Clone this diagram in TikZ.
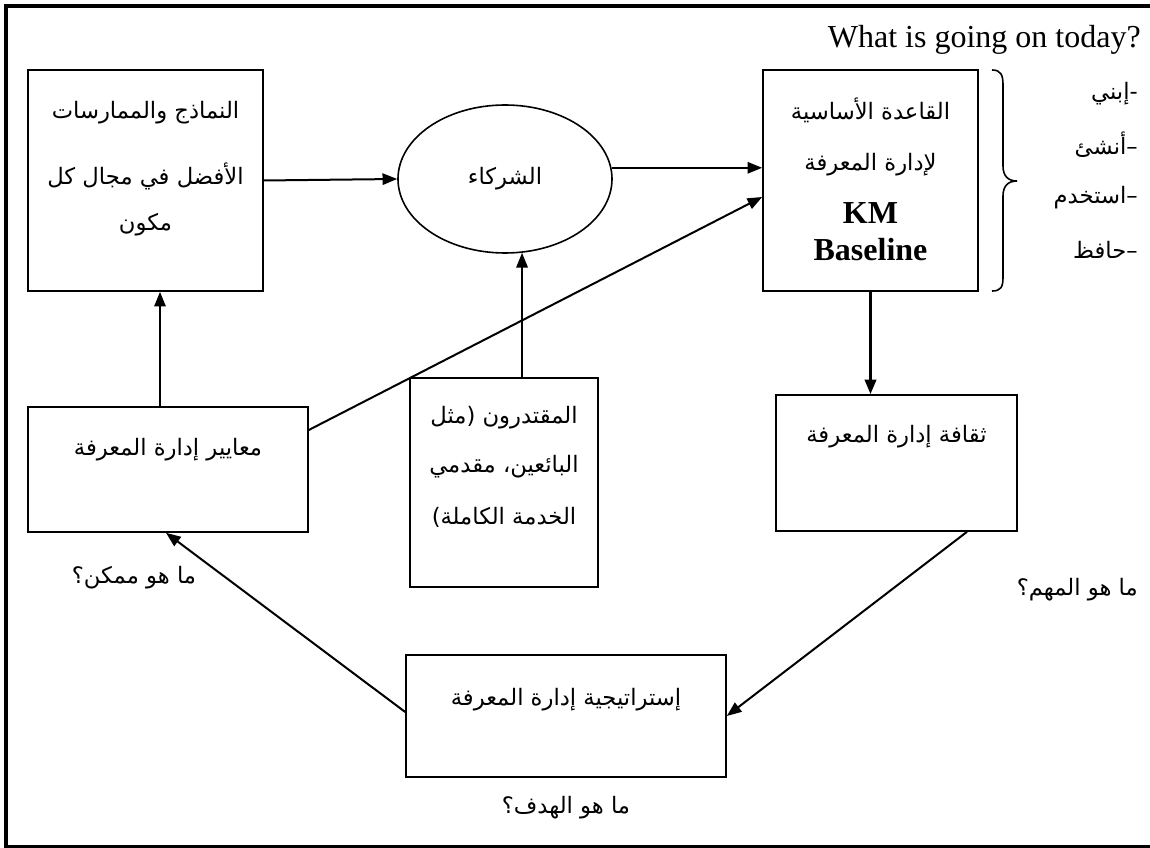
\documentclass[tikz,border=0pt]{standalone}
\usepackage{fontspec}
\setmainfont{Liberation Serif}
\newfontfamily\arabicfont[Script=Arabic]{DejaVu Sans}
\usetikzlibrary{arrows.meta,shapes.geometric}
\TeXXeTstate=1
% one right-to-left line of Arabic
\newcommand{\arline}[1]{\beginR #1\endR}

\begin{document}
\begin{tikzpicture}[x=0.75pt,y=-0.75pt,
  box/.style={draw, line width=1.2pt, rectangle, inner sep=0pt},
  link/.style={line width=1.5pt},
  arr/.style={link, -{Triangle[length=11pt,width=8.5pt]}},
  artext/.style={font=\arabicfont\fontsize{17}{20}\selectfont, inner sep=0pt},
  entext/.style={font=\fontsize{24}{28}\selectfont, inner sep=0pt},
  kmtext/.style={font=\bfseries\fontsize{24}{28}\selectfont, inner sep=0pt}]
\useasboundingbox (0,0) rectangle (1150,848);

% outer frame, its right side runs off the page
\draw[line width=3pt] (1170,6) -- (6,6) -- (6,847) -- (1170,847);

% boxes
\node[box, minimum width=176.25pt, minimum height=165.75pt] (models) at (145.5,180.5) {};
\node[box, ellipse, minimum width=160.5pt, minimum height=111pt] (partners) at (505,179) {};
\node[box, minimum width=161.25pt, minimum height=165.75pt] (km) at (870.5,180.5) {};
\node[box, minimum width=210pt, minimum height=93.75pt] (metrics) at (168,469.5) {};
\node[box, minimum width=141pt, minimum height=156.75pt] (suppliers) at (504,482.5) {};
\node[box, minimum width=180.75pt, minimum height=102pt] (culture) at (896.5,463) {};
\node[box, minimum width=240pt, minimum height=91.5pt] (strategy) at (566,716) {};

% box texts
\node[artext] (models1) at (145.5,113) {\arline{النماذج والممارسات}};
\node[artext] (models2) at (145.5,176) {\arline{الأفضل في مجال كل}};
\node[artext] (models3) at (145.5,225) {\arline{مكون}};
\node[artext] (partnersT) at (505,179) {\arline{الشركاء}};
\node[artext] (km1) at (870.5,110) {\arline{القاعدة الأساسية}};
\node[artext] (km2) at (870.5,165) {\arline{لإدارة المعرفة}};
\node[kmtext] (km3) at (870.5,213) {KM};
\node[kmtext] (km4) at (870.5,250) {Baseline};
\node[artext] (metricsT) at (168,450) {\arline{معايير إدارة المعرفة}};
\node[artext] (suppliers1) at (504,418) {\arline{المقتدرون (مثل}};
\node[artext] (suppliers2) at (504,467) {\arline{البائعين، مقدمي}};
\node[artext] (suppliers3) at (504,517) {\arline{الخدمة الكاملة)}};
\node[artext] (cultureT) at (896.5,437) {\arline{ثقافة إدارة المعرفة}};
\node[artext] (strategyT) at (566,700) {\arline{إستراتيجية إدارة المعرفة}};

% free labels
\node[entext, anchor=east] (today) at (1141,40) {What is going on today?};
\node[artext, anchor=east] (do1) at (1138,94) {\arline{-إبني}};
\node[artext, anchor=east] (do2) at (1138,145) {\arline{–أنشئ}};
\node[artext, anchor=east] (do3) at (1138,198) {\arline{–استخدم}};
\node[artext, anchor=east] (do4) at (1138,250) {\arline{–حافظ}};
\node[artext] (possible) at (134,578) {\arline{ما هو ممكن؟}};
\node[artext, anchor=east] (important) at (1138,590) {\arline{ما هو المهم؟}};
\node[artext] (goal) at (566,808) {\arline{ما هو الهدف؟}};

% brace grouping the four actions
\draw[line width=1.2pt] (992,70) .. controls (1001,70) and (1003,75) .. (1003,85)
  -- (1003,166) .. controls (1003,176) and (1008,181) .. (1017,181)
  .. controls (1008,181) and (1003,186) .. (1003,196)
  -- (1003,277) .. controls (1003,287) and (1001,291) .. (992,291);

% connectors
\draw[arr] (models.east) -- (partners.west);
\draw[arr] (partners.6) -- (km.west |- partners.6);
\draw[arr] (suppliers.north -| partners.-77) -- (partners.-77);
\draw[arr] (metrics.east |- 0,430) -- (km.west |- 0,197);
\draw[arr] (metrics.north -| 160,0) -- (models.south -| 160,0);
\draw[arr, line width=2.2pt] (km.south) -- (culture.north -| km.south);
\draw[arr] (culture.south -| 967,0) -- (strategy.east);
\draw[arr] (strategy.west |- 0,712) -- (metrics.south -| 166,0);
\end{tikzpicture}
\end{document}
